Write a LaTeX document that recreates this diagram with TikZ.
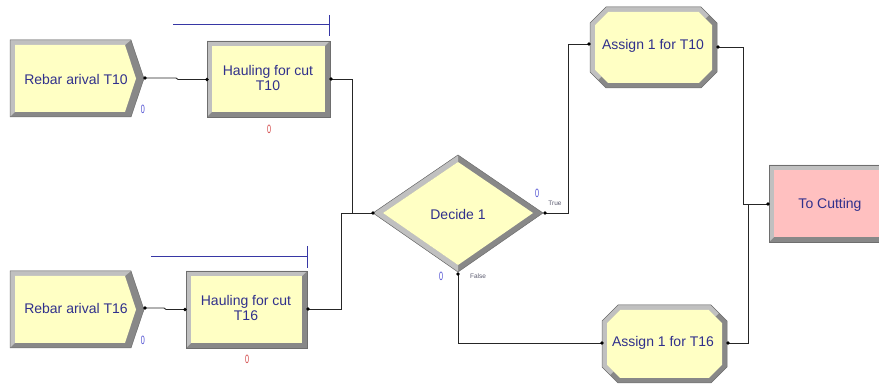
\documentclass[tikz,border=0pt]{standalone}
\usepackage{fontspec}
\setmainfont{Liberation Sans}
\definecolor{modfill}{RGB}{255,255,196}
\definecolor{dispfill}{RGB}{255,192,192}
\definecolor{bvlight}{RGB}{192,192,192}
\definecolor{bvdark}{RGB}{136,136,136}
\definecolor{bvedge}{RGB}{110,110,110}
\definecolor{lbltext}{RGB}{48,48,140}
\definecolor{cntblue}{RGB}{80,80,210}
\definecolor{cntred}{RGB}{210,70,70}
\definecolor{queueblue}{RGB}{55,55,165}
\definecolor{branchtext}{RGB}{90,90,110}

% rectangular module with a raised bevel: x1 y1 x2 y2 fill
\newcommand\bevelbox[5]{%
  \fill[bvdark] (#1,#2) rectangle (#3,#4);
  \fill[bvlight] (#1,#2) -- (#3,#2) -- (#3-5,#2+5) -- (#1+5,#4-5) -- (#1,#4) -- cycle;
  \fill[#5] (#1+5,#2+5) rectangle (#3-5,#4-5);
  \draw[bvedge,line width=0.5] (#1,#2) rectangle (#3,#4);
}
% octagonal module: x1 y1 x2 y2
\newcommand\bevelocta[4]{%
  \fill[bvdark] (#1+16,#2) -- (#3-16,#2) -- (#3,#2+16) -- (#3,#4-16) -- (#3-16,#4)
    -- (#1+16,#4) -- (#1,#4-16) -- (#1,#2+16) -- cycle;
  \fill[bvlight] (#1+8,#4-8) -- (#1,#4-16) -- (#1,#2+16) -- (#1+16,#2) -- (#3-16,#2)
    -- (#3-8,#2+8) -- (#3-11.5,#2+11.5) -- (#3-18.07,#2+5) -- (#1+18.07,#2+5)
    -- (#1+5,#2+18.07) -- (#1+5,#4-18.07) -- (#1+11.5,#4-11.5) -- cycle;
  \fill[modfill] (#1+18.07,#2+5) -- (#3-18.07,#2+5) -- (#3-5,#2+18.07) -- (#3-5,#4-18.07)
    -- (#3-18.07,#4-5) -- (#1+18.07,#4-5) -- (#1+5,#4-18.07) -- (#1+5,#2+18.07) -- cycle;
  \draw[bvedge,line width=0.5] (#1+16,#2) -- (#3-16,#2) -- (#3,#2+16) -- (#3,#4-16) -- (#3-16,#4)
    -- (#1+16,#4) -- (#1,#4-16) -- (#1,#2+16) -- cycle;
}
% arrival module with a chevron on the right: x1 y1 x2 y2 (x2 = flat edge end)
\newcommand\bevelcreate[4]{%
  \fill[bvdark] (#1,#2) -- (#3,#2) -- (#3+13,{(#2+#4)/2}) -- (#3,#4) -- (#1,#4) -- cycle;
  \fill[bvlight] (#1,#2) -- (#3,#2) -- (#3-6,#2+5) -- (#1+5,#2+5) -- (#1+5,#4-5) -- (#1,#4) -- cycle;
  \fill[modfill] (#1+5,#2+5) -- (#3-6,#2+5) -- (#3+5,{(#2+#4)/2}) -- (#3-6,#4-5) -- (#1+5,#4-5) -- cycle;
  \draw[bvedge,line width=0.5] (#1,#2) -- (#3,#2) -- (#3+13,{(#2+#4)/2}) -- (#3,#4) -- (#1,#4) -- cycle;
}
% narrow counter digit
\newcommand\cntdigit[1]{\scalebox{0.6}[1]{#1}}

\tikzset{
  lbl/.style={inner sep=0pt, align=center, text=lbltext,
    font=\fontsize{14}{14.5}\selectfont},
  cnt/.style={inner sep=0pt, font=\fontsize{12}{12}\selectfont},
  branch/.style={inner sep=0pt, text=branchtext, font=\fontsize{6.5}{6.5}\selectfont},
  conn/.style={line width=0.9pt, draw=black!85},
  queue/.style={line width=1pt, draw=queueblue},
}

\begin{document}
\begin{tikzpicture}[x=1pt,y=-1pt]
\useasboundingbox (0,0) rectangle (879,387);

% ---- module bodies
\bevelcreate{10}{40}{131}{117}
\bevelcreate{10}{271}{131}{348}
\bevelbox{207}{41}{330}{117}{modfill}
\bevelbox{186}{271}{307}{348}{modfill}
\fill[bvdark] (458,155) -- (543,213) -- (458,272) -- (373,213) -- cycle;
\fill[bvlight] (458,155) -- (373,213) -- (458,272) -- (458,265) -- (383,213) -- (458,162) -- cycle;
\fill[modfill] (458,162) -- (533,213) -- (458,265) -- (383,213) -- cycle;
\draw[bvedge,line width=0.5] (458,155) -- (543,213) -- (458,272) -- (373,213) -- cycle;
\bevelocta{590}{7}{717}{88}
\bevelocta{602}{305}{727}{383}
\bevelbox{769}{165}{886}{242}{dispfill}

% ---- labels
\node[lbl] (r10) at (76,79) {Rebar arival T10};
\node[lbl] (r16) at (76,308) {Rebar arival T16};
\node[lbl] (h10) at (268,78) {Hauling for cut\\T10};
\node[lbl] (h16) at (246,308) {Hauling for cut\\T16};
\node[lbl] (dec) at (458,214) {Decide 1};
\node[lbl] (a10) at (653,46) {Assign 1 for T10};
\node[lbl] (a16) at (663,343) {Assign 1 for T16};
\node[lbl] (cut) at (830,205) {To Cutting};

% ---- counters and branch names
\node[cnt,text=cntblue] (n1) at (143,109) {\cntdigit{0}};
\node[cnt,text=cntblue] (n2) at (143,340) {\cntdigit{0}};
\node[cnt,text=cntred] (n3) at (269,129) {\cntdigit{0}};
\node[cnt,text=cntred] (n4) at (247,359) {\cntdigit{0}};
\node[cnt,text=cntblue] (n5) at (537,193) {\cntdigit{0}};
\node[cnt,text=cntblue] (n6) at (441,276) {\cntdigit{0}};
\node[branch] (tru) at (555,203) {True};
\node[branch] (fal) at (478,276) {False};

% ---- queues
\draw[queue] (173,25) -- (329,25);
\draw[queue] (329,15) -- (329,36);
\draw[queue] (151,257) -- (307,257);
\draw[queue] (307,246) -- (307,268);

% ---- ports
\coordinate (r10o) at (145,78);
\coordinate (h10i) at (207,79.5);
\coordinate (h10o) at (331,79);
\coordinate (r16o) at (145,308);
\coordinate (h16i) at (185,309.5);
\coordinate (h16o) at (308,309);
\coordinate (deci) at (373,213);
\coordinate (dect) at (545,213);
\coordinate (decf) at (458,274);
\coordinate (a10i) at (589,44);
\coordinate (a10o) at (718,47);
\coordinate (a16i) at (602,343);
\coordinate (a16o) at (728,343);
\coordinate (cuti) at (768,204);

% ---- connectors
\draw[conn] (r10o) -- (176,78) -- (178,79.5) -- (h10i);
\draw[conn] (r16o) -- (164,308) -- (166,309.5) -- (h16i);
\draw[conn] (h10o) -| (352,213) -- (deci);
\draw[conn] (h16o) -| (341,213) -- (deci);
\draw[conn] (dect) -| (568,44) -- (a10i);
\draw[conn] (decf) |- (a16i);
\draw[conn] (a10o) -| (743,204) -- (cuti);
\draw[conn] (a16o) -| (748,204);

\foreach \p in {r10o,h10i,h10o,r16o,h16i,h16o,deci,dect,decf,a10i,a10o,a16i,a16o,cuti}
  \fill[black] (\p) circle (1.9);
\end{tikzpicture}
\end{document}
